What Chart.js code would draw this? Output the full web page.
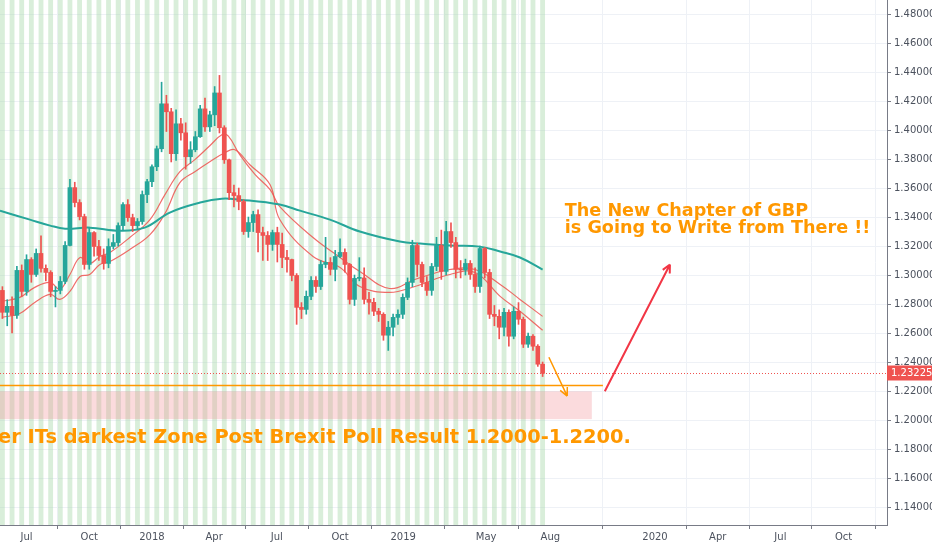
<!DOCTYPE html>
<html>
<head>
<meta charset="utf-8">
<script src="https://cdn.jsdelivr.net/npm/chart.js@4/dist/chart.umd.min.js"></script>
<style>
  html, body { margin: 0; padding: 0; background: #fff; }
  #wrap { width: 932px; height: 550px; }
</style>
</head>
<body>
<div id="wrap"><canvas id="gbpChart"></canvas></div>
<script>
// weekly GBP candles, first candle sits 32 weeks before 2018-01-01
const firstWeek = -32;
const firstOpen = 1.2811;
const closes = [
  1.2894, 1.2743, 1.2784, 1.2722, 1.3032, 1.2887, 1.3107, 1.3004, 1.3149, 1.3046,
  1.3018, 1.2887, 1.2894, 1.2956, 1.3204, 1.3603, 1.3500, 1.3403, 1.3073, 1.3293,
  1.3197, 1.3135, 1.3080, 1.3197, 1.3224, 1.3341, 1.3486, 1.3396, 1.3341, 1.3369,
  1.3555, 1.3644, 1.3747, 1.3871, 1.4181, 1.4126, 1.3837, 1.4043, 1.3981, 1.3816,
  1.3864, 1.3954, 1.4146, 1.4022, 1.4105, 1.4256, 1.4016, 1.3795, 1.3568, 1.3548,
  1.3507, 1.3300, 1.3362, 1.3417, 1.3293, 1.3273, 1.3211, 1.3293, 1.3211, 1.3121,
  1.3107, 1.2997, 1.2777, 1.2763, 1.2853, 1.2963, 1.2921, 1.3073, 1.3087, 1.3039,
  1.3128, 1.3156, 1.3073, 1.2832, 1.2977, 1.2980, 1.2832, 1.2812, 1.2750, 1.2729,
  1.2585, 1.2640, 1.2708, 1.2729, 1.2846, 1.2949, 1.3204, 1.3073, 1.2949, 1.2894,
  1.3059, 1.3204, 1.3025, 1.3300, 1.3224, 1.3039, 1.3035, 1.3080, 1.3004, 1.2921,
  1.3183, 1.3018, 1.2729, 1.2715, 1.2640, 1.2743, 1.2578, 1.2750, 1.2695, 1.2523,
  1.2578, 1.2509, 1.2385, 1.23225
];
const highs = [
  1.2960, 1.2920, 1.2830, 1.2850, 1.3060, 1.3070, 1.3140, 1.3120, 1.3180, 1.3270,
  1.3070, 1.3030, 1.2920, 1.2990, 1.3230, 1.3660, 1.3640, 1.3520, 1.3420, 1.3330,
  1.3300, 1.3240, 1.3180, 1.3250, 1.3280, 1.3360, 1.3500, 1.3520, 1.3420, 1.3390,
  1.3580, 1.3660, 1.3760, 1.3890, 1.4330, 1.4240, 1.4150, 1.4140, 1.4080, 1.4050,
  1.3920, 1.3990, 1.4170, 1.4220, 1.4130, 1.4300, 1.4377, 1.4030, 1.3800, 1.3620,
  1.3600, 1.3520, 1.3400, 1.3440, 1.3450, 1.3330, 1.3300, 1.3310, 1.3330, 1.3290,
  1.3170, 1.3110, 1.3010, 1.2810, 1.2890, 1.2990, 1.2990, 1.3100, 1.3260, 1.3120,
  1.3170, 1.3250, 1.3180, 1.3080, 1.3000, 1.3120, 1.3050, 1.2880, 1.2840, 1.2770,
  1.2740, 1.2680, 1.2730, 1.2760, 1.2870, 1.2980, 1.3240, 1.3220, 1.3090, 1.2990,
  1.3080, 1.3260, 1.3310, 1.3370, 1.3360, 1.3260, 1.3100, 1.3110, 1.3100, 1.3050,
  1.3200, 1.3190, 1.3040, 1.2790, 1.2760, 1.2770, 1.2760, 1.2780, 1.2810, 1.2710,
  1.2600, 1.2590, 1.2520, 1.2400
];
const lows = [
  1.2760, 1.2700, 1.2650, 1.2600, 1.2700, 1.2850, 1.2860, 1.2950, 1.2990, 1.3020,
  1.2960, 1.2850, 1.2780, 1.2870, 1.2940, 1.3200, 1.3470, 1.3380, 1.3040, 1.3040,
  1.3130, 1.3100, 1.3040, 1.3050, 1.3180, 1.3200, 1.3310, 1.3370, 1.3300, 1.3310,
  1.3350, 1.3500, 1.3610, 1.3720, 1.3850, 1.3990, 1.3780, 1.3790, 1.3930, 1.3730,
  1.3770, 1.3850, 1.3950, 1.3990, 1.3990, 1.4030, 1.3980, 1.3770, 1.3520, 1.3470,
  1.3450, 1.3280, 1.3260, 1.3300, 1.3160, 1.3100, 1.3100, 1.3170, 1.3090, 1.3050,
  1.3020, 1.2960, 1.2660, 1.2700, 1.2730, 1.2830, 1.2880, 1.2900, 1.3050, 1.3000,
  1.2960, 1.3120, 1.3020, 1.2800, 1.2790, 1.2960, 1.2800, 1.2730, 1.2720, 1.2680,
  1.2550, 1.2480, 1.2580, 1.2660, 1.2700, 1.2830, 1.2920, 1.2990, 1.2920, 1.2860,
  1.2860, 1.3030, 1.2970, 1.3000, 1.3190, 1.2980, 1.2980, 1.3000, 1.2970, 1.2880,
  1.2880, 1.2980, 1.2700, 1.2650, 1.2560, 1.2580, 1.2510, 1.2560, 1.2660, 1.2500,
  1.2500, 1.2480, 1.2370, 1.2300
];

// moving averages (week, price)
const maSlowWeeks = [-31.5, -25.3, -21.1, -18, -12.9, -6.6, -1.5, 3.7, 10, 14.5, 18.2, 26.5, 30.7, 36.9, 43.1, 51.4, 55.6, 61.8, 68, 72.2, 76.3, 81];
const maSlow = [1.3444, 1.3382, 1.3341, 1.3320, 1.3327, 1.3306, 1.3327, 1.3431, 1.3500, 1.3527, 1.3520, 1.3486, 1.3444, 1.3382, 1.3300, 1.3231, 1.3217, 1.3203, 1.3196, 1.3162, 1.3121, 1.3038];
const emaAWeeks = [-31.1, -27.4, -24.3, -21.1, -19.1, -17, -14.9, -12.9, -10.8, -8.7, -4.6, -0.4, 2.7, 5.8, 8.9, 12, 14.5, 15.8, 18.2, 21.4, 24.5, 26.5, 33.4, 39, 43.1, 49.3, 54.5, 61.8, 67, 72.2, 76.3, 81];
const emaA = [1.2818, 1.2846, 1.2915, 1.2949, 1.2901, 1.3004, 1.3121, 1.3080, 1.3128, 1.3156, 1.3259, 1.3383, 1.3555, 1.3713, 1.3796, 1.3892, 1.3967, 1.3960, 1.3830, 1.3692, 1.3589, 1.3472, 1.3259, 1.3121, 1.3024, 1.2907, 1.2969, 1.3038, 1.3038, 1.2935, 1.2832, 1.2715];
const emaBWeeks = [-31.1, -27.4, -24.3, -21.1, -19.1, -17, -14.9, -12.9, -10.8, -8.7, -4.6, -0.4, 2.7, 5.8, 8.9, 12, 15.1, 17.2, 20.3, 24.5, 26.5, 33.4, 39, 43.1, 49.3, 54.5, 61.8, 67, 72.2, 76.3, 81];
const emaB = [1.2708, 1.2735, 1.2811, 1.2866, 1.2832, 1.2887, 1.2990, 1.3004, 1.3073, 1.3094, 1.3176, 1.3279, 1.3424, 1.3637, 1.3713, 1.3782, 1.3844, 1.3864, 1.3761, 1.3623, 1.3383, 1.3128, 1.3052, 1.2921, 1.2880, 1.2921, 1.3004, 1.3018, 1.2853, 1.2750, 1.2619];

// x axis: weeks from 2018-01-01
const tickWeeks = [-26, -13, 0, 12.9, 25.9, 39, 52.1, 69.3, 82.6, 104.3, 117.3, 130.3, 143.4];
const tickLabels = ["Jul", "Oct", "2018", "Apr", "Jul", "Oct", "2019", "May", "Aug", "2020", "Apr", "Jul", "Oct"];
const priceTicks = [1.14, 1.16, 1.18, 1.20, 1.22, 1.24, 1.26, 1.28, 1.30, 1.32, 1.34, 1.36, 1.38, 1.40, 1.42, 1.44, 1.46, 1.48];

const lastPrice = 1.23225;
const supportLine = 1.2240;
const zoneTop = 1.2198;
const zoneBottom = 1.2006;
const zoneEndWeek = 91.2;
const lineEndWeek = 93.5;
const stripesEndWeek = 82.6;

const UP = "#26a69a";
const DOWN = "#ef5350";

const opens = closes.map((c, i) => (i === 0 ? firstOpen : closes[i - 1]));
const weeks = closes.map((c, i) => firstWeek + i);
const candleColors = closes.map((c, i) => (c >= opens[i] ? UP : DOWN));

const backdrop = {
  id: "backdrop",
  beforeDatasetsDraw(chart) {
    const { ctx, chartArea, scales } = chart;
    const x = scales.x, y = scales.y;
    ctx.save();
    ctx.beginPath();
    ctx.rect(chartArea.left, chartArea.top, chartArea.right - chartArea.left, chartArea.bottom - chartArea.top);
    ctx.clip();
    // alternating green week stripes
    ctx.fillStyle = "rgba(165, 214, 167, 0.42)";
    const endX = x.getPixelForValue(stripesEndWeek);
    for (let w = firstWeek - 1; w <= stripesEndWeek; w += 2) {
      const a = x.getPixelForValue(w - 0.5);
      const b = Math.min(x.getPixelForValue(w + 0.5), endX);
      ctx.fillRect(a, chartArea.top, b - a, chartArea.bottom - chartArea.top);
    }
    // pink zone
    ctx.fillStyle = "rgba(244, 143, 150, 0.32)";
    const zx = x.getPixelForValue(zoneEndWeek);
    const zt = y.getPixelForValue(zoneTop), zb = y.getPixelForValue(zoneBottom);
    ctx.fillRect(chartArea.left, zt, zx - chartArea.left, zb - zt);
    ctx.restore();
  },
  afterDatasetsDraw(chart) {
    const { ctx, chartArea, scales } = chart;
    const x = scales.x, y = scales.y;
    ctx.save();
    // last price dotted line + label
    const ly = Math.round(y.getPixelForValue(lastPrice)) + 0.5;
    ctx.strokeStyle = "#ef5350";
    ctx.lineWidth = 1;
    ctx.setLineDash([1, 2]);
    ctx.beginPath();
    ctx.moveTo(chartArea.left, ly);
    ctx.lineTo(chartArea.right, ly);
    ctx.stroke();
    ctx.setLineDash([]);
    // orange support line
    const sy = Math.round(y.getPixelForValue(supportLine)) + 0.5;
    ctx.strokeStyle = "#ff9800";
    ctx.lineWidth = 1.5;
    ctx.beginPath();
    ctx.moveTo(chartArea.left, sy);
    ctx.lineTo(x.getPixelForValue(lineEndWeek), sy);
    ctx.stroke();

    const arrow = (w1, p1, w2, p2, color, width) => {
      const x1 = x.getPixelForValue(w1), y1 = y.getPixelForValue(p1);
      const x2 = x.getPixelForValue(w2), y2 = y.getPixelForValue(p2);
      const ang = Math.atan2(y2 - y1, x2 - x1);
      ctx.strokeStyle = color;
      ctx.lineWidth = width;
      ctx.beginPath();
      ctx.moveTo(x1, y1);
      ctx.lineTo(x2, y2);
      ctx.moveTo(x2, y2);
      ctx.lineTo(x2 - 9 * Math.cos(ang - 0.45), y2 - 9 * Math.sin(ang - 0.45));
      ctx.moveTo(x2, y2);
      ctx.lineTo(x2 - 9 * Math.cos(ang + 0.45), y2 - 9 * Math.sin(ang + 0.45));
      ctx.stroke();
    };
    arrow(82.3, 1.2433, 86.1, 1.2165, "#ff9800", 1.5);
    arrow(93.9, 1.2198, 107.4, 1.3073, "#f23645", 2);

    // text notes
    ctx.fillStyle = "#ff9800";
    ctx.textBaseline = "alphabetic";
    ctx.font = "bold 17.6px 'DejaVu Sans', sans-serif";
    ctx.fillText("The New Chapter of GBP", x.getPixelForValue(85.6), y.getPixelForValue(1.3410));
    ctx.fillText("is Going to Write from There !!", x.getPixelForValue(85.6), y.getPixelForValue(1.3293));
    ctx.font = "bold 19.4px 'DejaVu Sans', sans-serif";
    ctx.fillText("er ITs darkest Zone Post Brexit Poll Result 1.2000-1.2200.", x.getPixelForValue(-31.9), y.getPixelForValue(1.1841));
    ctx.restore();

    // price label on the axis
    ctx.save();
    ctx.fillStyle = "#ef5350";
    ctx.fillRect(chartArea.right, ly - 8, 45, 15);
    ctx.fillStyle = "#fff";
    ctx.font = "10px 'DejaVu Sans', sans-serif";
    ctx.textBaseline = "middle";
    ctx.fillText(lastPrice.toFixed(5), chartArea.right + 4, ly);
    ctx.restore();
  }
};

const ctx = document.getElementById("gbpChart").getContext("2d");
new Chart(ctx, {
  type: "bar",
  data: {
    datasets: [
      {
        type: "line",
        data: maSlowWeeks.map((w, i) => ({ x: w, y: maSlow[i] })),
        borderColor: "#26a69a",
        borderWidth: 2,
        pointRadius: 0,
        tension: 0.4,
        order: 3,
      },
      {
        type: "line",
        data: emaAWeeks.map((w, i) => ({ x: w, y: emaA[i] })),
        borderColor: "rgba(239, 83, 80, 0.85)",
        borderWidth: 1.2,
        pointRadius: 0,
        tension: 0.4,
        order: 3,
      },
      {
        type: "line",
        data: emaBWeeks.map((w, i) => ({ x: w, y: emaB[i] })),
        borderColor: "rgba(239, 83, 80, 0.85)",
        borderWidth: 1.2,
        pointRadius: 0,
        tension: 0.4,
        order: 3,
      },
      {
        label: "wicks",
        data: weeks.map((w, i) => ({ x: w, y: [lows[i], highs[i]] })),
        backgroundColor: candleColors,
        barThickness: 1,
        grouped: false,
        order: 2,
      },
      {
        label: "bodies",
        data: weeks.map((w, i) => ({ x: w, y: [opens[i], closes[i]] })),
        backgroundColor: candleColors,
        barThickness: 4,
        minBarLength: 1,
        grouped: false,
        order: 1,
      },
    ],
  },
  options: {
    responsive: true,
    maintainAspectRatio: false,
    animation: false,
    layout: { padding: 0 },
    plugins: { legend: { display: false }, tooltip: { enabled: false } },
    scales: {
      x: {
        type: "linear",
        min: -31.5,
        max: 152.4,
        offset: false,
        grid: { color: "#eef1f6", drawTicks: true, tickLength: 4, tickColor: "#787b86" },
        border: { color: "#787b86" },
        afterBuildTicks: (axis) => { axis.ticks = tickWeeks.map((v) => ({ value: v })); },
        afterFit: (axis) => { axis.height = 25; axis.paddingLeft = 0; axis.paddingRight = 0; },
        ticks: {
          autoSkip: false,
          maxRotation: 0,
          color: "#4c525e",
          font: { size: 10, family: "'DejaVu Sans', sans-serif" },
          padding: 2,
          callback: (v) => { const i = tickWeeks.indexOf(v); return i >= 0 ? tickLabels[i] : ""; },
        },
      },
      y: {
        position: "right",
        min: 1.1276,
        max: 1.4897,
        grid: { color: "#eef1f6", tickLength: 4, tickColor: "#787b86" },
        border: { color: "#787b86" },
        afterBuildTicks: (axis) => { axis.ticks = priceTicks.map((v) => ({ value: v })); },
        afterFit: (axis) => { axis.width = 45; axis.paddingTop = 0; axis.paddingBottom = 0; },
        ticks: {
          color: "#4c525e",
          font: { size: 10, family: "'DejaVu Sans', sans-serif" },
          padding: 3,
          callback: (v) => v.toFixed(5),
        },
      },
    },
  },
  plugins: [backdrop],
});
</script>
</body>
</html>
